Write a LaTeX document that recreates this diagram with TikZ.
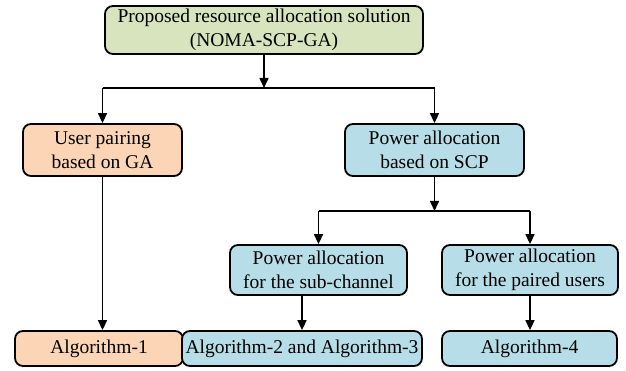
\documentclass[tikz,border=0pt]{standalone}
\usepackage{fontspec}
\setmainfont{Liberation Serif}
\usetikzlibrary{arrows.meta}
\definecolor{cgreen}{HTML}{D7E4BD}
\definecolor{corange}{HTML}{FBD5B5}
\definecolor{cblue}{HTML}{B7DEE8}
\begin{document}
\begin{tikzpicture}[x=1pt,y=-1pt,
  box/.style={draw=black,line width=1.8pt,rounded corners=8pt,align=center,inner sep=0pt,
    font=\fontsize{19.5}{24}\selectfont},
  arr/.style={line width=1.6pt,-{Triangle[length=10pt,width=9pt]}},
  ln/.style={line width=1.6pt}]
\useasboundingbox (0,0) rectangle (626,371);
\node[box,fill=cgreen,minimum width=318pt,minimum height=48pt] (top) at (264,30) {Proposed resource allocation solution\\(NOMA-SCP-GA)};
\node[box,fill=corange,minimum width=159pt,minimum height=52pt] (user) at (102.5,150) {User pairing\\based on GA};
\node[box,fill=cblue,minimum width=179pt,minimum height=52pt] (power) at (434.5,150) {Power allocation\\based on SCP};
\node[box,fill=cblue,minimum width=177pt,minimum height=50pt] (sub) at (318.5,270) {Power allocation\\for the sub-channel};
\node[box,fill=cblue,minimum width=176pt,minimum height=50pt] (paired) at (530,270) {Power allocation\\for the paired users};
\node[box,fill=corange,minimum width=168pt,minimum height=35pt] (alg1) at (99,348.5) {Algorithm-1};
\node[box,fill=cblue,minimum width=240pt,minimum height=35pt] (alg23) at (302,348.5) {Algorithm-2 and Algorithm-3};
\node[box,fill=cblue,minimum width=175pt,minimum height=35pt] (alg4) at (529.5,348.5) {Algorithm-4};
\coordinate (h1) at (0,88);
\coordinate (h2) at (0,211);
\draw[arr] (top.south) -- (top.south |- h1);
\draw[ln] (user.north |- h1) -- (power.north |- h1);
\draw[arr] (user.north |- h1) -- (user.north);
\draw[arr] (power.north |- h1) -- (power.north);
\draw[arr] (user.south) -- (user.south |- alg1.north);
\draw[arr] (power.south) -- (power.south |- h2);
\draw[ln] (sub.north |- h2) -- (paired.north |- h2);
\draw[arr] (sub.north |- h2) -- (sub.north);
\draw[arr] (paired.north |- h2) -- (paired.north);
\draw[arr] (alg23.north |- sub.south) -- (alg23.north);
\draw[arr] (paired.south) -- (paired.south |- alg4.north);
\end{tikzpicture}
\end{document}
